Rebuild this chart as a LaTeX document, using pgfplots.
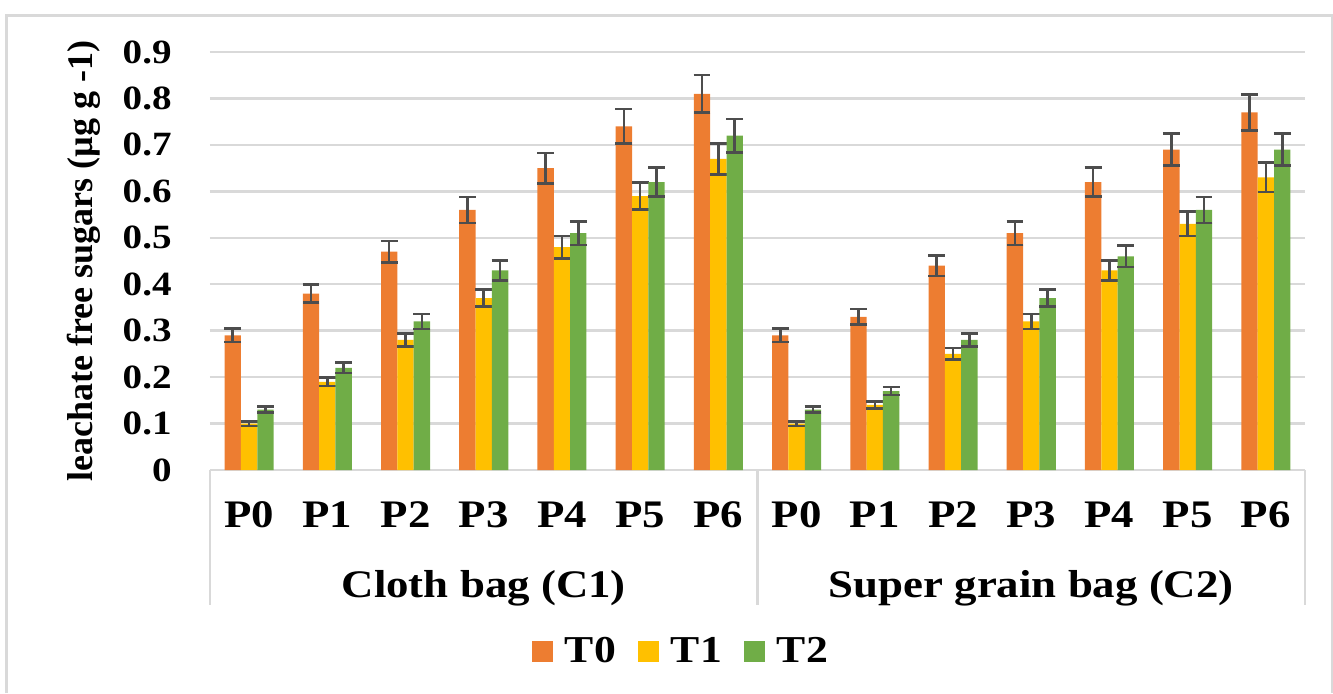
\documentclass[border=0pt]{standalone}
\usepackage{fontspec}
\setmainfont{Liberation Serif}[FakeStretch=1.15]
\newfontfamily\ylfont{Liberation Serif}
\usepackage{pgfplots}
\pgfplotsset{compat=1.18}
\definecolor{cT0}{HTML}{ED7D31}
\definecolor{cT1}{HTML}{FFC000}
\definecolor{cT2}{HTML}{70AD47}
\definecolor{gridc}{HTML}{D9D9D9}
\definecolor{errc}{HTML}{4D4D4D}
\begin{document}
\begin{tikzpicture}
\begin{axis}[
    at={(0,0)}, anchor=south west,
    scale only axis, width=547.5pt, height=209pt,
    xmin=-0.5, xmax=13.5, ymin=0, ymax=0.9,
    enlargelimits=false, clip=false,
    axis line style={draw=none},
    major tick length=0pt,
    ytick={0,0.1,0.2,0.3,0.4,0.5,0.6,0.7,0.8,0.9},
    yticklabels={0,0.1,0.2,0.3,0.4,0.5,0.6,0.7,0.8,0.9},
    ymajorgrids, grid style={gridc, line width=1.2pt},
    xtick={0,1,2,3,4,5,6,7,8,9,10,11,12,13},
    xticklabels={P0,P1,P2,P3,P4,P5,P6,P0,P1,P2,P3,P4,P5,P6},
    xticklabel style={font=\fontsize{19.5}{20}\selectfont\bfseries, anchor=base, yshift=-28.5pt},
    yticklabel style={font=\fontsize{17}{18}\selectfont\bfseries, anchor=east, inner sep=0pt, xshift=-19pt},
    ylabel={leachate free sugars (µg g -1)},
    every axis y label/.style={at={(axis description cs:-0.1151,0.5)}, rotate=90, anchor=center,
        font=\ylfont\fontsize{18}{20}\selectfont\bfseries},
    ybar, bar width=0.209,
    legend columns=3,
    legend style={at={(axis description cs:0.431,0)}, anchor=center, yshift=-90.5pt,
        draw=none, fill=none, font=\fontsize{19}{20}\selectfont\bfseries,
        /tikz/every odd column/.append style={column sep=4pt},
        /tikz/every even column/.append style={column sep=9pt}},
    legend image code/.code={\path[#1,draw=none] (0pt,-5.25pt) rectangle (10.5pt,5.25pt);},
    error bars/y dir=both, error bars/y explicit,
    error bars/error bar style={errc, line width=1.3pt},
    error bars/error mark options={rotate=90, errc, line width=1.3pt, mark size=4.2pt},
]
% T0
\addplot[fill=cT0, draw=none, bar shift=-0.209] coordinates {
    (0,0.29) +- (0,0.0145)  (1,0.38) +- (0,0.019)  (2,0.47) +- (0,0.0235)
    (3,0.56) +- (0,0.028)   (4,0.65) +- (0,0.0325) (5,0.74) +- (0,0.037)
    (6,0.81) +- (0,0.0405)
    (7,0.29) +- (0,0.0145)  (8,0.33) +- (0,0.0165) (9,0.44) +- (0,0.022)
    (10,0.51) +- (0,0.0255) (11,0.62) +- (0,0.031) (12,0.69) +- (0,0.0345)
    (13,0.77) +- (0,0.0385)
};
% T1
\addplot[fill=cT1, draw=none, bar shift=0] coordinates {
    (0,0.10) +- (0,0.005)   (1,0.19) +- (0,0.0095) (2,0.28) +- (0,0.014)
    (3,0.37) +- (0,0.0185)  (4,0.48) +- (0,0.024)  (5,0.59) +- (0,0.0295)
    (6,0.67) +- (0,0.0335)
    (7,0.10) +- (0,0.005)   (8,0.14) +- (0,0.007)  (9,0.25) +- (0,0.0125)
    (10,0.32) +- (0,0.016)  (11,0.43) +- (0,0.0215) (12,0.53) +- (0,0.0265)
    (13,0.63) +- (0,0.0315)
};
% T2
\addplot[fill=cT2, draw=none, bar shift=0.209] coordinates {
    (0,0.13) +- (0,0.0065)  (1,0.22) +- (0,0.011)  (2,0.32) +- (0,0.016)
    (3,0.43) +- (0,0.0215)  (4,0.51) +- (0,0.0255) (5,0.62) +- (0,0.031)
    (6,0.72) +- (0,0.036)
    (7,0.13) +- (0,0.0065)  (8,0.17) +- (0,0.0085) (9,0.28) +- (0,0.014)
    (10,0.37) +- (0,0.0185) (11,0.46) +- (0,0.023) (12,0.56) +- (0,0.028)
    (13,0.69) +- (0,0.0345)
};
\legend{T0,T1,T2}
% group separators and labels
\draw[gridc, line width=1.2pt] (axis cs:-0.5,0) -- ++(0pt,-67.5pt);
\draw[gridc, line width=1.2pt] (axis cs:6.5,0) -- ++(0pt,-67.5pt);
\draw[gridc, line width=1.2pt] (axis cs:13.5,0) -- ++(0pt,-67.5pt);
\node[anchor=base, font=\fontsize{19.5}{20}\selectfont\bfseries] at ([yshift=-63.5pt]axis cs:3,0) {Cloth bag (C1)};
\node[anchor=base, font=\fontsize{19.5}{20}\selectfont\bfseries] at ([yshift=-63.5pt]axis cs:10,0) {Super grain bag (C2)};
\end{axis}
\draw[gridc, line width=1.5pt] (-101.5pt,-111.5pt) -- (-101.5pt,227.5pt) -- (561pt,227.5pt) -- (561pt,-111.5pt);
\pgfresetboundingbox
\path[use as bounding box] (-105pt,-111.5pt) rectangle (561.5pt,235pt);
\end{tikzpicture}
\end{document}
